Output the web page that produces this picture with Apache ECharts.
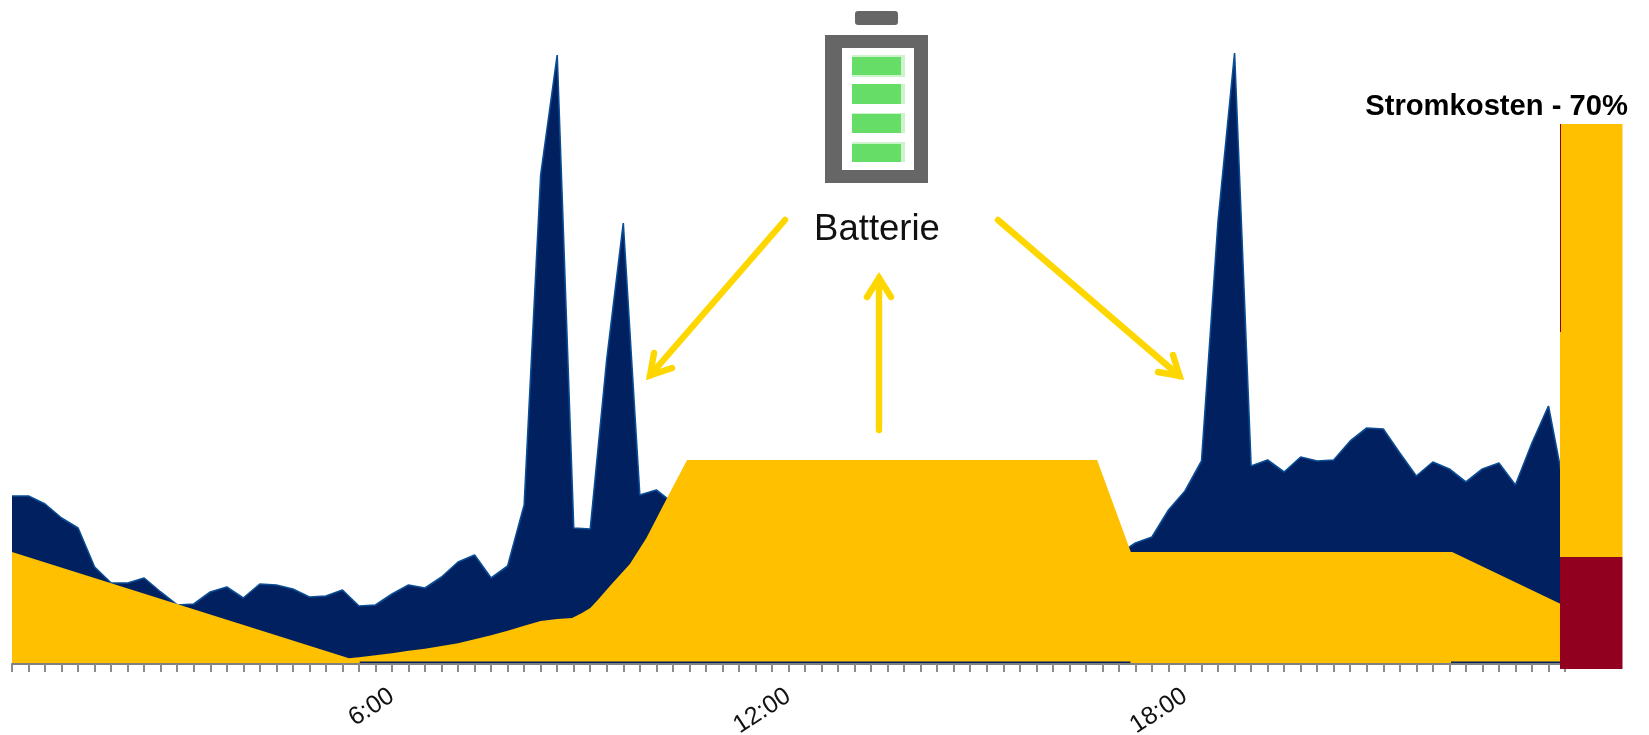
<!DOCTYPE html>
<html><head><meta charset="utf-8">
<style>html,body{margin:0;padding:0;background:#fff}#c{width:1649px;height:735px}</style>
<script src="https://cdn.jsdelivr.net/npm/echarts@6/dist/echarts.min.js"></script>
</head><body><div id="c"></div>
<script>
// quarter-hour slots 0..94; tick labels at these slots
const tickSlots = [23, 47, 71];
const tickLabels = ['6:00', '12:00', '18:00'];
// demand (navy area), one value per slot
const demand = [168,168,160,146,136,97,81,81,86,72,59,60,72,77,66,80,79,75,67,68,74,58,59,70,79,76,87,102,109,86,98,159,489,609,136,135,305,441,169,174,161,
  158,160,163,157,161,166,160,155,158,162,165,159,154,157,160,156,152,149,146,143,138,134,128,124,120,114,110,121,127,154,173,203,443,611,198,204,192,207,203,204,223,236,235,211,188,202,195,182,195,201,179,221,258,172];
// battery / grid supply (gold area), slot + value
const goldX = [0,20.4,21,22,23,24,25,26,27,28,29,30,31,32,33,33.9,34.5,35,35.4,36.3,37.4,38.4,39.4,40.86,65.68,67.72,87.17,94];
const goldY = [112,5.7,6.7,8.7,10.7,13.3,15.3,18,20.7,24.7,28.7,33.3,38.3,43,45,46,51,56,63,80,100,126,158,204,204,112,112,58];
// thin navy strip visible below the gold area
const stripA = [21.05, 67.7];
const stripB = [87.1, 94];
const stripLevel = 1.5;
// right-hand cost bar
const costCategory = ['Stromkosten'];
const costRed = [112];
const costGold = [433];

const font = '"Liberation Sans", Arial, sans-serif';
const arrowColor = '#FFD700';
function arrow(points){
  return {type:'polyline', z:20, shape:{points}, style:{stroke:arrowColor, fill:null, lineWidth:6.4, lineCap:'round', lineJoin:'miter', miterLimit:10}};
}
function box(x,y,w,h,fill,r){ return {type:'rect', z:20, shape:{x,y,width:w,height:h,r:r||0}, style:{fill}}; }

const chart = echarts.init(document.getElementById('c'), null, {renderer:'canvas'});
chart.setOption({
  animation:false,
  backgroundColor:'#fff',
  title:{text:'Stromkosten - 70%', right:16, top:87, textStyle:{fontFamily:font, fontWeight:'bold', fontSize:29.2, color:'#000'}},
  grid:[
    {left:12, right:84, top:0, bottom:71, outerBoundsMode:'none'},
    {left:1560, width:62.5, top:124, bottom:66, outerBoundsMode:'none'}
  ],
  xAxis:[
    {type:'value', gridIndex:0, min:0, max:94, interval:1, z:3,
     splitLine:{show:false},
     axisLine:{show:true, onZero:false, lineStyle:{color:'#808080', width:2}},
     axisTick:{show:true, length:8, lineStyle:{color:'#8c8c8c', width:2}},
     axisLabel:{show:true, rotate:33, margin:30, fontFamily:font, fontSize:25, color:'#111', hideOverlap:false,
       showMinLabel:true, showMaxLabel:true,
       formatter:v => { const k = tickSlots.indexOf(v); return k >= 0 ? tickLabels[k] : ''; }}},
    {type:'category', gridIndex:1, data:costCategory, show:false, boundaryGap:true}
  ],
  yAxis:[
    {type:'value', gridIndex:0, min:0, max:664, show:false},
    {type:'value', gridIndex:1, min:0, max:545, show:false}
  ],
  series:[
    {name:'Bedarf', type:'line', xAxisIndex:0, yAxisIndex:0, z:2, symbol:'none', smooth:false,
     data:demand.map((v,i)=>[i,v]),
     lineStyle:{color:'#0a4d94', width:1.6}, areaStyle:{color:'#002060', opacity:1}},
    {name:'Batterie', type:'line', xAxisIndex:0, yAxisIndex:0, z:2.5, symbol:'none', smooth:false,
     data:goldX.map((x,i)=>[x,goldY[i]]),
     lineStyle:{width:0}, areaStyle:{color:'#FFC000', opacity:1}},
    {name:'a', type:'line', xAxisIndex:0, yAxisIndex:0, z:2.6, symbol:'none',
     data:stripA.map(x=>[x,stripLevel]), lineStyle:{color:'#002060', width:2}},
    {name:'b', type:'line', xAxisIndex:0, yAxisIndex:0, z:2.6, symbol:'none',
     data:stripB.map(x=>[x,stripLevel]), lineStyle:{color:'#002060', width:2}},
    {name:'Netz', type:'bar', xAxisIndex:1, yAxisIndex:1, stack:'k', z:6, barWidth:'100%', data:costRed, itemStyle:{color:'#92001F'}},
    {name:'PV', type:'bar', xAxisIndex:1, yAxisIndex:1, stack:'k', z:6, barWidth:'100%', data:costGold, itemStyle:{color:'#FFC000'}}
  ],
  graphic:[
    box(1560,124,1,208,'#92001F'),
    box(855,11,43,14,'#666666',3),
    box(825,35,103,148,'#666666'),
    box(842,48,72,122,'#ffffff'),
    box(852,55,53,22,'#CDF3CD'),
    box(852,84,53,20,'#CDF3CD'),
    box(852,113,53,20,'#CDF3CD'),
    box(852,142,53,20,'#CDF3CD'),
    box(852,57,49,18,'#66DD66'),
    box(852,84,49,20,'#66DD66'),
    box(852,114,49,19,'#66DD66'),
    box(852,144,49,18,'#66DD66'),
    {type:'text', z:20, style:{text:'Batterie', x:877, y:230, align:'center', verticalAlign:'middle', font:'36.5px '+font, fill:'#111'}},
    arrow([[785,220],[650,375.5]]),
    arrow([[654,353],[650,375.5],[672,368]]),
    arrow([[879,430],[879,278]]),
    arrow([[867,297],[879,278],[891,297]]),
    arrow([[998,220],[1179.5,376]]),
    arrow([[1173,355],[1179.5,376],[1158,372]])
  ]
});
</script></body></html>
